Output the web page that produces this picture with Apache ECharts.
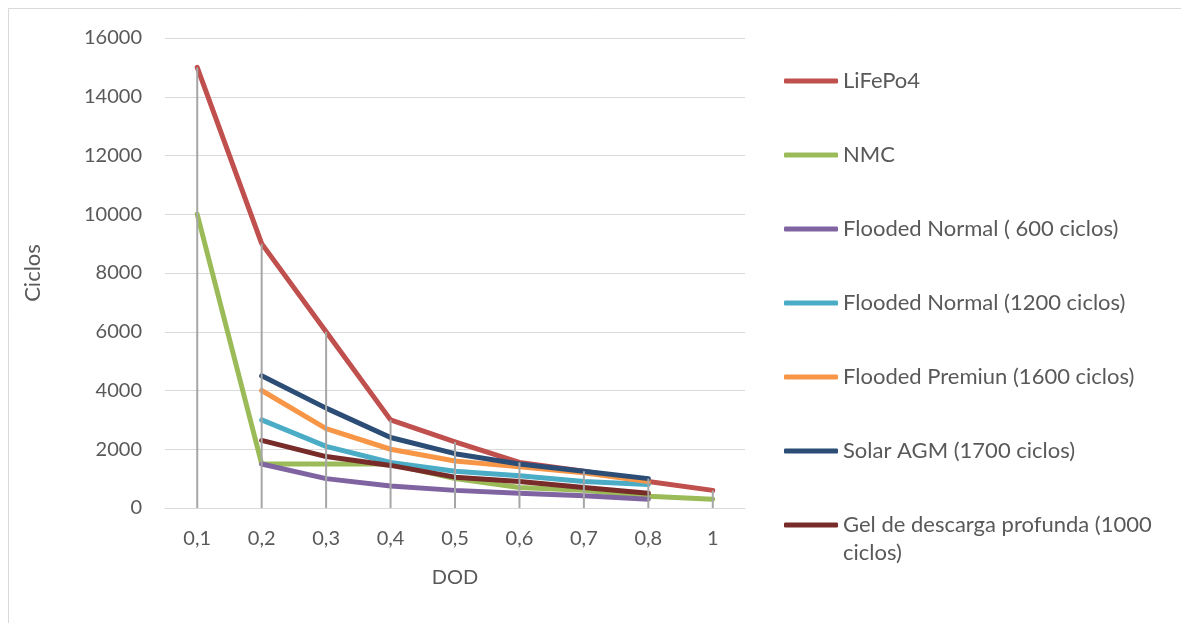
<!DOCTYPE html>
<html>
<head>
<meta charset="utf-8">
<title>Ciclos vs DOD</title>
<script src="https://cdn.jsdelivr.net/npm/echarts@6/dist/echarts.min.js"></script>
<style>
  html, body { margin: 0; padding: 0; background: #fff; }
  #chart { width: 1181px; height: 623px; }
</style>
</head>
<body>
<div id="chart"></div>
<script>
// Depth of discharge categories
const dod = ['0,1', '0,2', '0,3', '0,4', '0,5', '0,6', '0,7', '0,8', '1'];

// Cycle life per battery technology (null = no data at that DOD)
const lifepo4     = [15000, 9000, 6000, 3000, 2250, 1550, 1250, 900, 600];
const nmc         = [10000, 1500, 1500, 1500, 1000, 700, 600, 400, 300];
const flooded600  = [null, 1500, 1000, 750, 600, 500, 420, 300, null];
const flooded1200 = [null, 3000, 2100, 1550, 1250, 1100, 900, 800, null];
const premium1600 = [null, 4000, 2700, 2000, 1600, 1400, 1200, 900, null];
const agm1700     = [null, 4500, 3400, 2400, 1850, 1500, 1250, 1000, null];
const gel1000     = [null, 2300, 1750, 1450, 1050, 900, 700, 500, null];

const seriesDefs = [
  { name: 'LiFePo4', data: lifepo4, color: '#C0504D' },
  { name: 'NMC', data: nmc, color: '#9BBB59' },
  { name: 'Flooded Normal ( 600 ciclos)', data: flooded600, color: '#8064A2' },
  { name: 'Flooded Normal (1200 ciclos)', data: flooded1200, color: '#4BACC6' },
  { name: 'Flooded Premiun (1600 ciclos)', data: premium1600, color: '#F79646' },
  { name: 'Solar AGM (1700 ciclos)', data: agm1700, color: '#2C4D75' },
  { name: 'Gel de descarga profunda (1000 ciclos)', data: gel1000, color: '#772C2A' }
];

// Drop lines run from the highest value at each DOD down to the axis
const dropTops = dod.map((_, i) =>
  Math.max(...seriesDefs.map(s => (s.data[i] == null ? 0 : s.data[i]))));

const FONT = 'Lato';
const TXT = '#595959';
const LEGEND_LH = 28;
const LEGEND_STEP = 74;
const LEGEND_TOP = 62;

const chart = echarts.init(document.getElementById('chart'), null, { renderer: 'canvas' });

const lineSeries = seriesDefs.map((s, i) => ({
  name: s.name,
  type: 'line',
  data: s.data,
  symbol: 'none',
  smooth: false,
  connectNulls: false,
  z: 2 + i * 0.01,
  color: s.color,
  lineStyle: { color: s.color, width: 5, cap: 'round', join: 'round' },
  emphasis: { disabled: true }
}));

const legendBase = {
  orient: 'vertical',
  left: 779,
  icon: 'roundRect',
  itemWidth: 54,
  itemHeight: 5,
  itemGap: LEGEND_STEP - LEGEND_LH,
  selectedMode: false,
  textStyle: { fontFamily: FONT, fontSize: 22, color: TXT, lineHeight: LEGEND_LH }
};

// The last entry wraps onto a second line; a leading blank line keeps its
// first line level with the swatch.
const lastIdx = seriesDefs.length - 1;
const lastCenter = LEGEND_TOP + 5 + LEGEND_LH / 2 + lastIdx * LEGEND_STEP;

chart.setOption({
  animation: false,
  backgroundColor: '#ffffff',
  textStyle: { fontFamily: FONT, color: TXT },
  graphic: [{
    type: 'rect',
    shape: { x: 8.5, y: 8.5, width: 1300, height: 800 },
    style: { fill: 'none', stroke: '#D9D9D9', lineWidth: 1 },
    silent: true,
    z: -10
  }],
  grid: { left: 165, right: 436, top: 38, bottom: 115, containLabel: false },
  legend: [
    Object.assign({}, legendBase, {
      top: LEGEND_TOP,
      data: seriesDefs.slice(0, lastIdx).map(s => s.name)
    }),
    Object.assign({}, legendBase, {
      top: lastCenter - LEGEND_LH * 1.5 - 5,
      data: [seriesDefs[lastIdx].name],
      formatter: () => '\nGel de descarga profunda (1000\nciclos)'
    })
  ],
  xAxis: {
    type: 'category',
    data: dod,
    boundaryGap: true,
    name: 'DOD',
    nameLocation: 'middle',
    nameGap: 60,
    nameTextStyle: { fontFamily: FONT, fontSize: 20, color: TXT },
    axisLine: { show: true, lineStyle: { color: '#D9D9D9', width: 1 } },
    axisTick: { show: false },
    axisLabel: { margin: 21, fontFamily: FONT, fontSize: 20, color: TXT },
    splitLine: { show: false }
  },
  yAxis: {
    type: 'value',
    min: 0,
    max: 16000,
    interval: 2000,
    name: 'Ciclos',
    nameLocation: 'middle',
    nameGap: 121,
    nameTextStyle: { fontFamily: FONT, fontSize: 22, color: TXT },
    axisLine: { show: false },
    axisTick: { show: false },
    axisLabel: { margin: 23, fontFamily: FONT, fontSize: 20, color: TXT, formatter: v => String(v) },
    splitLine: { show: true, lineStyle: { color: '#D9D9D9', width: 1 } }
  },
  series: lineSeries.concat([{
    name: 'drop',
    type: 'bar',
    data: dropTops,
    barWidth: 2,
    barGap: '-100%',
    itemStyle: { color: '#A6A6A6' },
    z: 5,
    silent: true,
    emphasis: { disabled: true }
  }])
});
</script>
</body>
</html>
